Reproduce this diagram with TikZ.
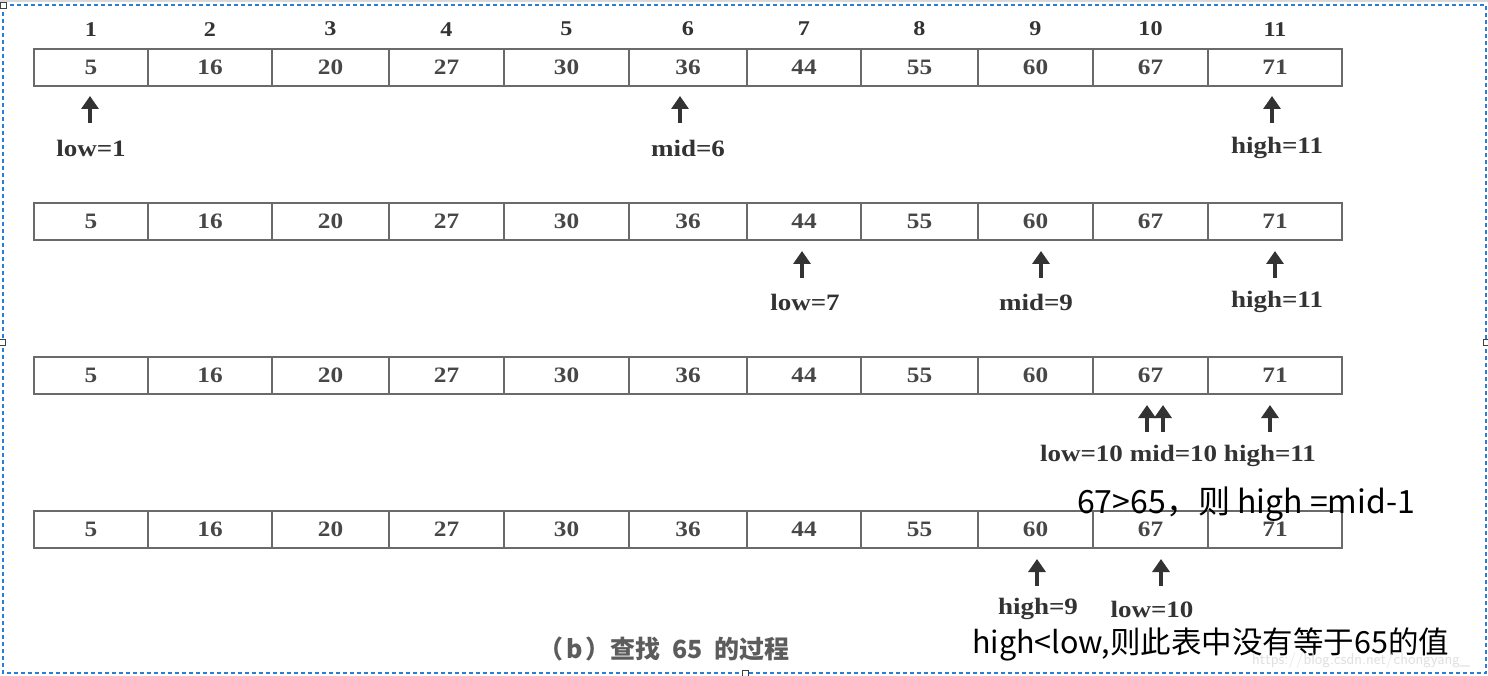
\documentclass[tikz,border=0pt]{standalone}
\usepackage{fontspec}
\setmainfont{Liberation Serif}
\newfontfamily\scan[FakeStretch=1.15]{Liberation Serif}
\newfontfamily\cjk{Noto Sans CJK SC}
\usetikzlibrary{arrows.meta}
\definecolor{ink}{HTML}{333333}
\definecolor{boxline}{HTML}{6A6A6A}
\definecolor{selblue}{HTML}{2A7FD4}
\tikzset{
  cell/.style={draw=boxline, line width=1.8pt, inner sep=0pt, minimum height=37pt,
    font=\scan\fontsize{22}{24}\selectfont\bfseries, text=ink!90},
  idx/.style={font=\scan\fontsize{21}{24}\selectfont\bfseries, text=ink, inner sep=0pt},
  ptrlabel/.style={font=\scan\fontsize{23.5}{26}\selectfont\bfseries, text=ink, inner sep=0pt},
  uparrow/.style={draw=ink, line width=3.6pt, -{Triangle[width=17pt,length=13pt]}},
  note/.style={font=\cjk\fontsize{30.5}{32}\selectfont, text=black, inner sep=0pt, anchor=base west},
  caption/.style={font=\cjk\bfseries\fontsize{25}{28}\selectfont, text=ink!80, inner sep=0pt},
  handle/.style={draw=black!75, fill=white, line width=0.8pt, minimum size=6pt, inner sep=0pt},
}
\begin{document}
\begin{tikzpicture}[x=1pt,y=-1pt]
\useasboundingbox (0,0) rectangle (1488,676);
\fill[white] (0,0) rectangle (1488,676);
\fill[black!15] (0,0) rectangle (1488,2);
% selection border
\draw[selblue, line width=1.2pt, dash pattern=on 4pt off 3pt] (3,5) rectangle (1486,673);
\node[handle] (h1) at (3,5) {};
\node[handle] (h2) at (2,342) {};
\node[handle] (h3) at (1486,342) {};
\node[handle] (h4) at (745,673) {};
% rows of cells
\foreach \r/\yt in {1/49, 2/203, 3/357, 4/511}{
  \foreach \i/\xl/\xr/\v in {1/34/148/5, 2/148/272/16, 3/272/389/20, 4/389/504/27,
      5/504/629/30, 6/629/747/36, 7/747/861/44, 8/861/978/55, 9/978/1093/60,
      10/1093/1208/67, 11/1208/1342/71}{
    \pgfmathsetmacro{\w}{\xr-\xl}
    \pgfmathsetmacro{\xc}{(\xl+\xr)/2}
    \pgfmathsetmacro{\yc}{\yt+18.5}
    \node[cell, minimum width=\w pt] (r\r c\i) at (\xc,\yc) {\v};
  }
}
% index numbers
\foreach \i in {1,...,11}{
  \node[idx] (n\i) at ([yshift=19pt]r1c\i.north) {\i};
}
% row 1 pointers
\coordinate (a1s) at (90,123);  \coordinate (a1e) at (90,96);
\coordinate (a2s) at (680,123); \coordinate (a2e) at (680,96);
\coordinate (a3s) at (1272,123);\coordinate (a3e) at (1272,96);
\draw[uparrow] (a1s) -- (a1e);
\draw[uparrow] (a2s) -- (a2e);
\draw[uparrow] (a3s) -- (a3e);
\node[ptrlabel] (l1) at (91,148) {low=1};
\node[ptrlabel] (l2) at (688,148) {mid=6};
\node[ptrlabel] (l3) at (1277,148) {high=11};
% row 2 pointers
\coordinate (b1s) at (802,278);  \coordinate (b1e) at (802,251);
\coordinate (b2s) at (1041,278); \coordinate (b2e) at (1041,251);
\coordinate (b3s) at (1275,278); \coordinate (b3e) at (1275,251);
\draw[uparrow] (b1s) -- (b1e);
\draw[uparrow] (b2s) -- (b2e);
\draw[uparrow] (b3s) -- (b3e);
\node[ptrlabel] (m1) at (805,302) {low=7};
\node[ptrlabel] (m2) at (1036,302) {mid=9};
\node[ptrlabel] (m3) at (1277,302) {high=11};
% row 3 pointers
\coordinate (c1s) at (1147,432); \coordinate (c1e) at (1147,405);
\coordinate (c2s) at (1163,432); \coordinate (c2e) at (1163,405);
\coordinate (c3s) at (1270,432); \coordinate (c3e) at (1270,405);
\draw[uparrow] (c1s) -- (c1e);
\draw[uparrow] (c2s) -- (c2e);
\draw[uparrow] (c3s) -- (c3e);
\node[ptrlabel] (k1) at (1178,456) {low=10 mid=10 high=11};
% row 4 pointers
\coordinate (d1s) at (1037,586); \coordinate (d1e) at (1037,559);
\coordinate (d2s) at (1161,586); \coordinate (d2e) at (1161,559);
\draw[uparrow] (d1s) -- (d1e);
\draw[uparrow] (d2s) -- (d2e);
\node[ptrlabel] (e1) at (1038,609) {high=9};
\node[ptrlabel] (e2) at (1152,609) {low=10};
% notes
\node[note, font=\cjk\fontsize{32}{34}\selectfont] (t1) at (1077,513) {67>65，则 high =mid-1};
\node[note] (t2) at (972,653) {high<low,则此表中没有等于65的值};
\node[caption] (cap) at (664,649) {（\hspace{3pt}b\hspace{3pt}）查找\hspace{12pt}65\hspace{12pt}的过程};
\node[font=\fontsize{16}{18}\selectfont\sffamily, text=black!12, inner sep=0pt] (wm) at (1361,660) {https://blog.csdn.net/chongyang\_};
\end{tikzpicture}
\end{document}
